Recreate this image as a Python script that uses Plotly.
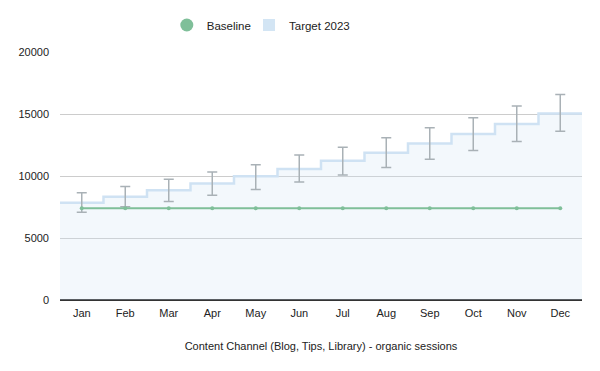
import plotly.graph_objects as go

months = ["Jan", "Feb", "Mar", "Apr", "May", "Jun", "Jul", "Aug", "Sep", "Oct", "Nov", "Dec"]
baseline = [7400] * 12
target = [7850, 8330, 8850, 9400, 9970, 10570, 11220, 11870, 12620, 13380, 14200, 15050]
err_high = [8650, 9160, 9730, 10320, 10900, 11690, 12310, 13090, 13890, 14690, 15640, 16580]
err_low = [7070, 7520, 7950, 8440, 8920, 9510, 10080, 10690, 11360, 12060, 12790, 13600]
y_ticks = [0, 5000, 10000, 15000, 20000]

idx = list(range(len(months)))
step_x = [i - 0.5 for i in idx] + [idx[-1] + 0.5]
step_y = target + [target[-1]]

fig = go.Figure()

fig.add_trace(go.Scatter(
    x=step_x, y=step_y, mode="lines", line_shape="hv",
    line=dict(color="#cfe2f3", width=2.5),
    fill="tozeroy", fillcolor="rgba(207,226,243,0.25)",
    showlegend=False, hoverinfo="skip"))

fig.add_trace(go.Scatter(
    x=idx, y=target, mode="markers", marker=dict(size=1, opacity=0),
    error_y=dict(type="data", symmetric=False,
                 array=[h - t for h, t in zip(err_high, target)],
                 arrayminus=[t - l for t, l in zip(target, err_low)],
                 color="#a9b1b6", thickness=1.5, width=5),
    showlegend=False, hoverinfo="skip"))

fig.add_trace(go.Scatter(
    x=idx, y=baseline, mode="lines+markers",
    line=dict(color="#7fbf99", width=2),
    marker=dict(size=4, color="#7fbf99"),
    showlegend=False))

fig.add_trace(go.Scatter(
    x=[None], y=[None], mode="markers", name="Baseline", legend="legend",
    marker=dict(symbol="circle", size=13, color="#7fbf99")))
fig.add_trace(go.Scatter(
    x=[None], y=[None], mode="markers", name="Target 2023", legend="legend2",
    marker=dict(symbol="square", size=12, color="#d3e5f4")))

leg_common = dict(orientation="h", xref="container", xanchor="left",
                  yref="container", y=1 - 25 / 371, yanchor="middle",
                  bgcolor="rgba(0,0,0,0)", font=dict(size=11.5), itemwidth=30)

fig.update_layout(
    width=600, height=371,
    margin=dict(l=60, r=18, t=52, b=71),
    paper_bgcolor="white", plot_bgcolor="white",
    font=dict(family="Arial, Liberation Sans, sans-serif", size=11, color="#222"),
    legend=dict(x=0.278, **leg_common),
    legend2=dict(x=0.415, **leg_common),
    xaxis=dict(range=[-0.5, 11.5], tickmode="array", tickvals=idx, ticktext=months,
               showgrid=False, zeroline=False, showline=False, ticks="", automargin=False,
               ticklabelstandoff=5,
               title=dict(text="Content Channel (Blog, Tips, Library) - organic sessions",
                          font=dict(size=11), standoff=24),
               tickfont=dict(size=11)),
    yaxis=dict(range=[0, 20000], tickvals=y_ticks, tickformat="d", showgrid=True,
               gridcolor="#cccccc", automargin=False, ticklabelstandoff=10,
               zeroline=True, zerolinecolor="#333333", zerolinewidth=1.5,
               showline=False, ticks="", tickfont=dict(size=11)),
)

fig.write_html("out.html", config={"displayModeBar": False},
               post_script="document.body.style.margin='0';")
